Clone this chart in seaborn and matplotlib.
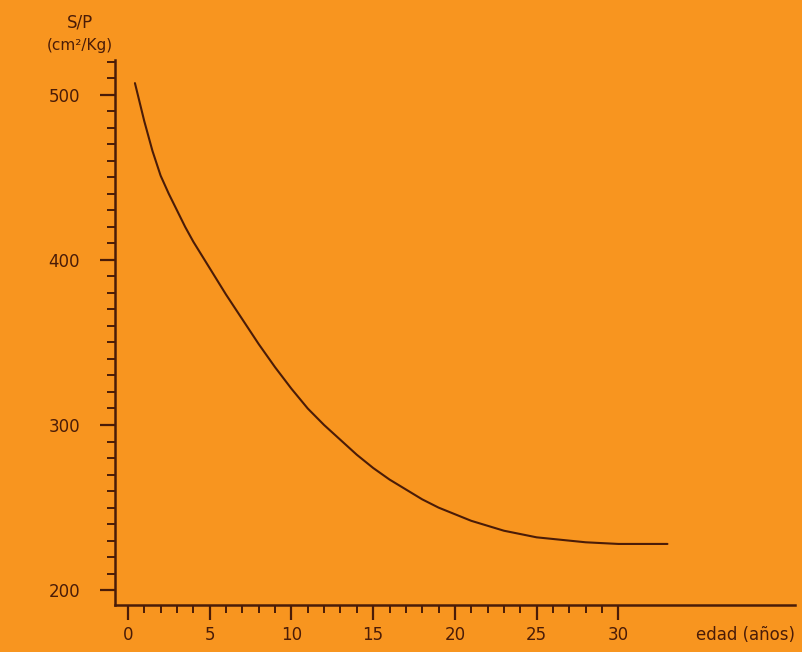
import numpy as np
import pandas as pd
import matplotlib
matplotlib.use("Agg")
import matplotlib.pyplot as plt
import seaborn as sns
from matplotlib.ticker import FixedLocator, MultipleLocator

# values
edad = [0.43, 1.0, 1.5, 2.0, 2.5, 3.0, 3.5, 4.0, 5.0, 6.0, 7.0, 8.0, 9.0,
        10.0, 11.0, 12.0, 13.0, 14.0, 15.0, 16.0, 17.0, 18.0, 19.0, 20.0,
        21.0, 22.0, 23.0, 24.0, 25.0, 26.0, 27.0, 28.0, 29.0, 30.0, 31.5, 33.0]
sp = [507, 484, 466, 451, 440, 430, 420, 411, 395, 379, 364, 349, 335,
      322, 310, 300, 291, 282, 274, 267, 261, 255, 250, 246,
      242, 239, 236, 234, 232, 231, 230, 229, 228.5, 228, 228, 228]

x_ticks = [0, 5, 10, 15, 20, 25, 30]
x_labels = ["0", "5", "10", "15", "20", "25", "30"]
y_ticks = [200, 300, 400, 500]
y_labels = ["200", "300", "400", "500"]

bg = "#f8951f"
ink = "#4a1c08"

sns.set_style("ticks")
plt.rcParams["font.family"] = ["DejaVu Sans"]

df = pd.DataFrame({"edad": edad, "sp": sp})

fig = plt.figure(figsize=(8.03, 6.52), dpi=100, facecolor=bg)
ax = fig.add_axes([0.143, 0.072, 0.847, 0.836])
ax.set_facecolor(bg)

sns.lineplot(data=df, x="edad", y="sp", color=ink, linewidth=1.5, ax=ax)

ax.set_xlim(-0.8, 40.8)
ax.set_ylim(191, 521)

ax.set_xticks(x_ticks)
ax.set_xticklabels(x_labels)
ax.xaxis.set_minor_locator(FixedLocator(np.arange(0, 31)))
ax.set_yticks(y_ticks)
ax.set_yticklabels(y_labels)
ax.yaxis.set_minor_locator(MultipleLocator(10))

ax.tick_params(axis="x", which="major", length=11, width=1.6, color=ink,
               labelcolor=ink, labelsize=12, pad=4)
ax.tick_params(axis="y", which="major", length=11, width=1.6, color=ink,
               labelcolor=ink, labelsize=12, pad=14)
ax.tick_params(axis="both", which="minor", length=6, width=1.4, color=ink)

for s in ["top", "right"]:
    ax.spines[s].set_visible(False)
for s in ["left", "bottom"]:
    ax.spines[s].set_color(ink)
    ax.spines[s].set_linewidth(1.8)

ax.set_xlabel("")
ax.set_ylabel("")

fig.text(0.1, 0.965, "S/P", ha="center", va="center", color=ink, fontsize=12)
fig.text(0.1, 0.93, "(cm²/Kg)", ha="center", va="center", color=ink, fontsize=11)
fig.text(0.928, 0.026, "edad (años)", ha="center", va="center", color=ink, fontsize=12)

fig.savefig("out.png", dpi=100, facecolor=bg)
